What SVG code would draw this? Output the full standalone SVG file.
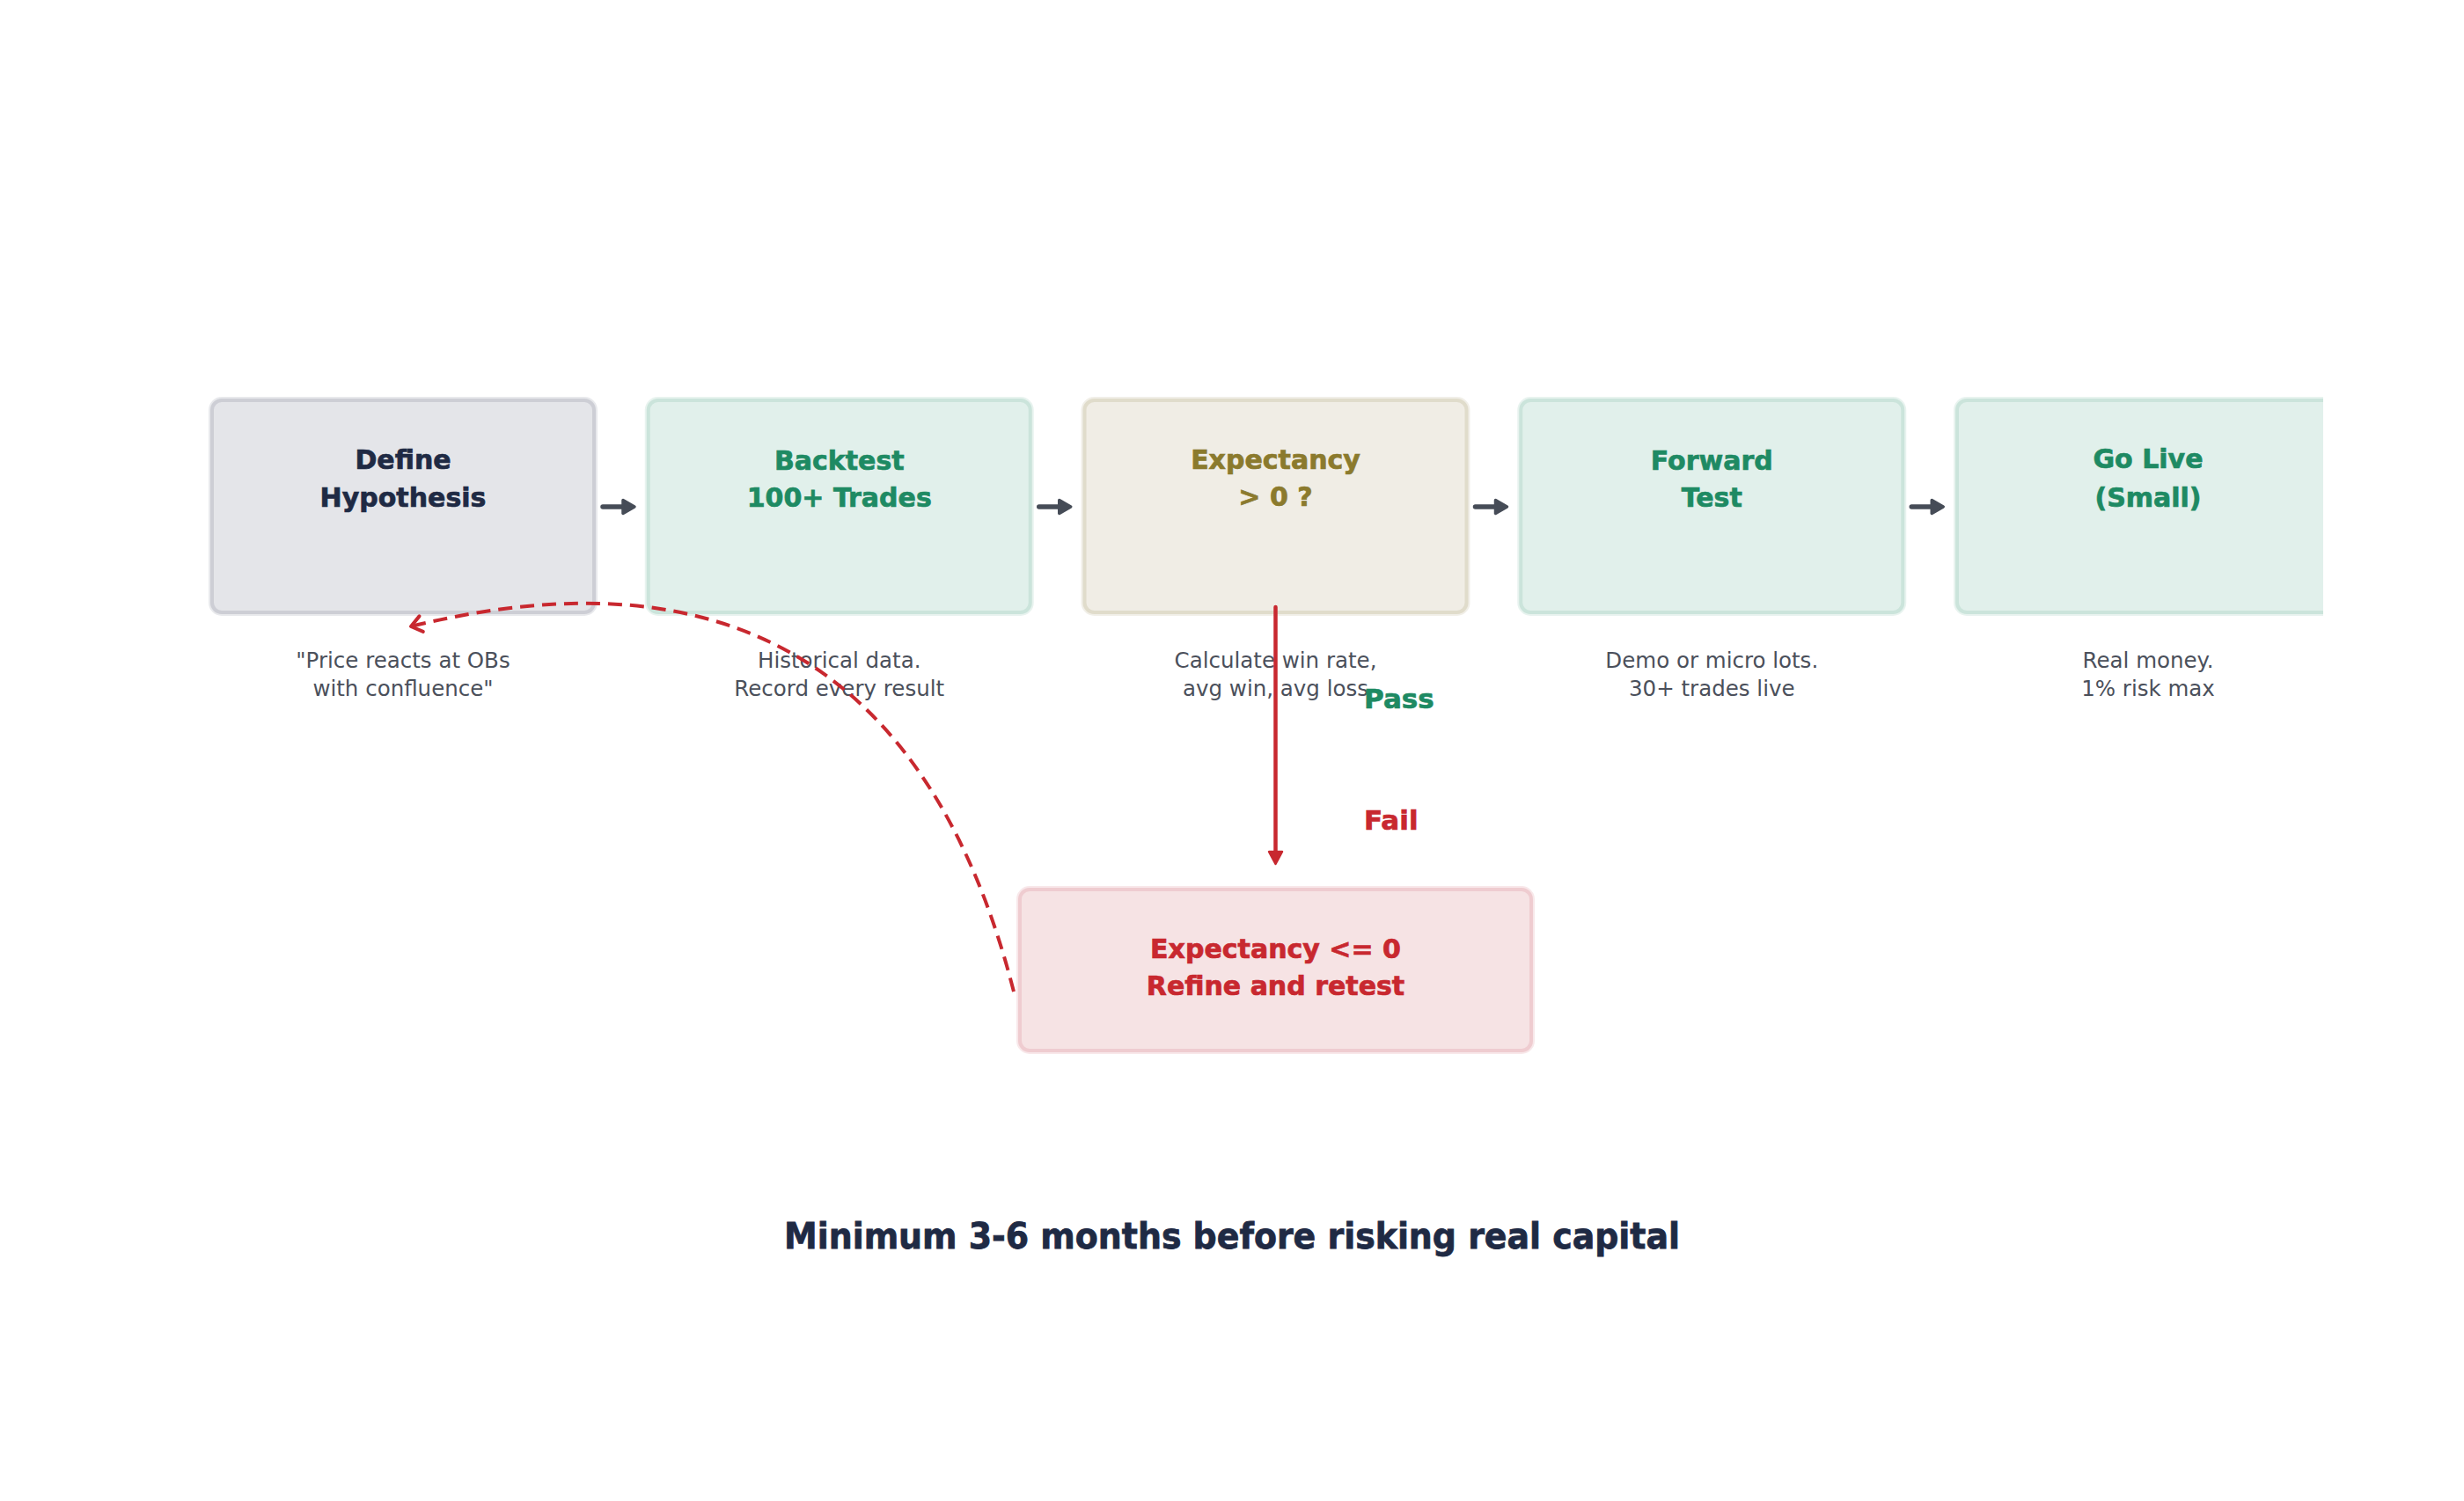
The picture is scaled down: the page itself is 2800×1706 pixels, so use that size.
<svg xmlns="http://www.w3.org/2000/svg" width="2800" height="1706" viewBox="0 0 2800 1706">
<style>
.title{font-family:"DejaVu Sans","Liberation Sans",sans-serif;font-weight:bold;font-size:30px;text-anchor:middle;stroke-width:0.7}
.sub{font-family:"DejaVu Sans","Liberation Sans",sans-serif;font-size:24.5px;fill:#4b505b;text-anchor:middle}
.lbl{font-family:"DejaVu Sans","Liberation Sans",sans-serif;font-weight:bold;font-size:31px;stroke-width:0.7}
.ring{fill:none;stroke-width:8;stroke-opacity:0.45}
.edge{stroke-width:4}
.gray .edge{fill:#e4e5e9;stroke:#cdced5}.gray .ring{stroke:#cdced5}.gray .title{fill:#1f2a44;stroke:#1f2a44}
.green .edge{fill:#e1f0eb;stroke:#cbe4db}.green .ring{stroke:#cbe4db}.green .title{fill:#1e8a63;stroke:#1e8a63}
.olive .edge{fill:#f0ede5;stroke:#e0dccb}.olive .ring{stroke:#e0dccb}.olive .title{fill:#8b7a2d;stroke:#8b7a2d}
.red .edge{fill:#f6e3e4;stroke:#efccd0}.red .ring{stroke:#efccd0}.red .title{fill:#c8282f;stroke:#c8282f}
.flow{stroke:#464c57;stroke-width:5.5;stroke-linecap:round;fill:none}
.flowhead{fill:#464c57;stroke:#464c57;stroke-width:3.5;stroke-linejoin:round}
</style>
<defs>
<clipPath id="clip"><rect x="0" y="0" width="2640" height="1706"/></clipPath>
<marker id="chev" markerUnits="userSpaceOnUse" markerWidth="30" markerHeight="30" viewBox="-20 -15 30 30" refX="0" refY="0" orient="auto">
<path d="M-12,-9 L0,0 L-12,9" fill="none" stroke="#c8282f" stroke-width="4" stroke-linecap="round" stroke-linejoin="round"/>
</marker>
</defs>
<rect width="2800" height="1706" fill="#ffffff"/>
<g id="node-define" class="gray">
<rect class="ring" x="241" y="455" width="434" height="241" rx="11"/>
<rect class="edge" x="241" y="455" width="434" height="241" rx="11"/>
<text class="title" x="458" y="533">Define</text>
<text class="title" x="458" y="576">Hypothesis</text>
<text class="sub" x="458" y="759">"Price reacts at OBs</text>
<text class="sub" x="458" y="791">with confluence"</text>
</g>
<g id="node-backtest" class="green">
<rect class="ring" x="736.75" y="455" width="434" height="241" rx="11"/>
<rect class="edge" x="736.75" y="455" width="434" height="241" rx="11"/>
<text class="title" x="953.75" y="534">Backtest</text>
<text class="title" x="953.75" y="576">100+ Trades</text>
<text class="sub" x="953.75" y="759">Historical data.</text>
<text class="sub" x="953.75" y="791">Record every result</text>
</g>
<g id="node-expectancy" class="olive">
<rect class="ring" x="1232.5" y="455" width="434" height="241" rx="11"/>
<rect class="edge" x="1232.5" y="455" width="434" height="241" rx="11"/>
<text class="title" x="1449.5" y="533">Expectancy</text>
<text class="title" x="1449.5" y="575">&gt; 0 ?</text>
<text class="sub" x="1449.5" y="759">Calculate win rate,</text>
<text class="sub" x="1449.5" y="791">avg win, avg loss</text>
</g>
<g id="node-forward" class="green">
<rect class="ring" x="1728.25" y="455" width="434" height="241" rx="11"/>
<rect class="edge" x="1728.25" y="455" width="434" height="241" rx="11"/>
<text class="title" x="1945.25" y="534">Forward</text>
<text class="title" x="1945.25" y="576">Test</text>
<text class="sub" x="1945.25" y="759">Demo or micro lots.</text>
<text class="sub" x="1945.25" y="791">30+ trades live</text>
</g>
<g id="node-golive" class="green">
<g clip-path="url(#clip)">
<rect class="ring" x="2224" y="455" width="434" height="241" rx="11"/>
<rect class="edge" x="2224" y="455" width="434" height="241" rx="11"/>
</g>
<text class="title" x="2441" y="532">Go Live</text>
<text class="title" x="2441" y="576">(Small)</text>
<text class="sub" x="2441" y="759">Real money.</text>
<text class="sub" x="2441" y="791">1% risk max</text>
</g>
<g id="node-refine" class="red">
<rect class="ring" x="1159" y="1011" width="581" height="183" rx="11"/>
<rect class="edge" x="1159" y="1011" width="581" height="183" rx="11"/>
<text class="title" x="1449.5" y="1089">Expectancy &lt;= 0</text>
<text class="title" x="1449.5" y="1131">Refine and retest</text>
</g>
<g id="connectors">
<g id="flow-arrows">
<path class="flow" d="M685,576 H708"/><path class="flowhead" d="M708,568.5 L721,576 L708,583.5 Z"/>
<path class="flow" d="M1180.75,576 H1203.75"/><path class="flowhead" d="M1203.75,568.5 L1216.75,576 L1203.75,583.5 Z"/>
<path class="flow" d="M1676.5,576 H1699.5"/><path class="flowhead" d="M1699.5,568.5 L1712.5,576 L1699.5,583.5 Z"/>
<path class="flow" d="M2172.25,576 H2195.25"/><path class="flowhead" d="M2195.25,568.5 L2208.25,576 L2195.25,583.5 Z"/>
</g>
<g id="fail-arrow">
<path d="M1449.5,690 V968" stroke="#c8282f" stroke-width="4.5" fill="none" stroke-linecap="round"/>
<path d="M1442,968 L1457,968 L1449.5,982 Z" fill="#c8282f" stroke="#c8282f" stroke-width="2.5" stroke-linejoin="round"/>
</g>
<path id="retest-loop" d="M1152,1127 Q1011,578 467,712" fill="none" stroke="#c8282f" stroke-width="4" stroke-dasharray="16 9" marker-end="url(#chev)"/>
<text class="lbl" x="1550" y="805" fill="#1e8a63" stroke="#1e8a63">Pass</text>
<text class="lbl" x="1550" y="943" fill="#c8282f" stroke="#c8282f">Fail</text>
</g>
<text x="1400" y="1419" font-family="DejaVu Sans, Liberation Sans, sans-serif" font-weight="bold" font-size="40" fill="#1f2a44" stroke="#1f2a44" stroke-width="0.8" text-anchor="middle" textLength="1018" lengthAdjust="spacingAndGlyphs">Minimum 3-6 months before risking real capital</text>
</svg>
